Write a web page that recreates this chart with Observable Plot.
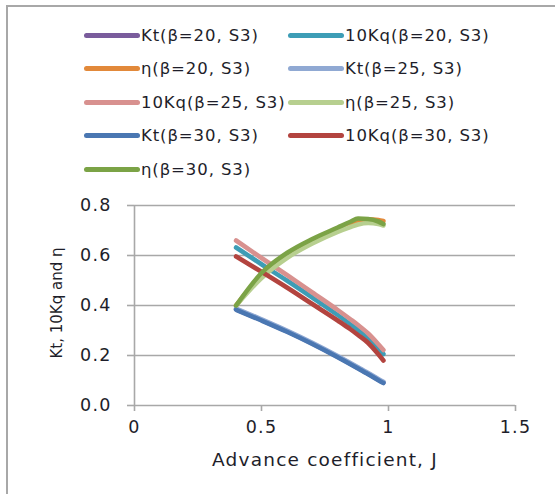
<!DOCTYPE html>
<html>
<head>
<meta charset="utf-8">
<script src="https://cdn.jsdelivr.net/npm/d3@7"></script>
<script src="https://cdn.jsdelivr.net/npm/@observablehq/plot@0.6"></script>
<style>
  html, body { margin: 0; padding: 0; background: #fff; }
  #wrap { position: relative; width: 555px; height: 494px; overflow: hidden; font-family: "DejaVu Sans", Verdana, sans-serif; }
  #frame { position: absolute; left: 6px; top: 5px; width: 560px; height: 500px; border-left: 2px solid #a8a8a8; border-top: 2px solid #a8a8a8; }
  #legend { position: absolute; left: 0; top: 0; width: 555px; height: 190px; }
  .item { position: absolute; display: flex; align-items: center; font-size: 16.5px; letter-spacing: 0.9px; color: #1e1e2a; white-space: nowrap; }
  .swatch { width: 56px; height: 5px; border-radius: 3px; margin-right: 1px; }
  #chart { position: absolute; left: 0; top: 190px; }
  #ylabel { position: absolute; left: 57px; top: 303px; transform: translate(-50%, -50%) rotate(-90deg); font-size: 15px; color: #1e1e2a; white-space: nowrap; line-height: 18px; }
</style>
</head>
<body>
<div id="wrap">
  <div id="frame"></div>
  <div id="legend"></div>
  <div id="chart"></div>
  <div id="ylabel"></div>
</div>
<script>
// Series names and colours
const seriesNames = [
  "Kt(β=20, S3)", "10Kq(β=20, S3)", "η(β=20, S3)",
  "Kt(β=25, S3)", "10Kq(β=25, S3)", "η(β=25, S3)",
  "Kt(β=30, S3)", "10Kq(β=30, S3)", "η(β=30, S3)"
];
const seriesColors = [
  "#7a5c9c", "#3d9db6", "#e2893a",
  "#90a9d3", "#d8918f", "#b7cf8f",
  "#4a77b2", "#b3443f", "#7ba346"
];
const xLabel = "Advance coefficient, J";
const yLabel = "Kt, 10Kq and η";

// Advance coefficient J
const J = [0.4, 0.5, 0.6, 0.7, 0.8, 0.85, 0.88, 0.92, 0.96, 0.98];

// Values
const kt20   = [0.385, 0.342, 0.297, 0.248, 0.195, 0.167, 0.150, 0.127, 0.103, 0.092];
const kq20   = [0.632, 0.565, 0.500, 0.432, 0.362, 0.325, 0.302, 0.268, 0.228, 0.206];
const eta20  = [0.400, 0.522, 0.602, 0.660, 0.705, 0.725, 0.737, 0.745, 0.742, 0.738];
const kt25   = [0.388, 0.345, 0.300, 0.251, 0.198, 0.170, 0.153, 0.130, 0.106, 0.095];
const kq25   = [0.660, 0.590, 0.522, 0.452, 0.382, 0.345, 0.322, 0.288, 0.245, 0.222];
const eta25  = [0.400, 0.510, 0.590, 0.648, 0.695, 0.714, 0.724, 0.730, 0.726, 0.720];
const kt30   = [0.383, 0.340, 0.295, 0.246, 0.193, 0.165, 0.148, 0.125, 0.101, 0.090];
const kq30   = [0.596, 0.535, 0.472, 0.406, 0.340, 0.305, 0.282, 0.250, 0.205, 0.180];
const eta30  = [0.400, 0.530, 0.610, 0.666, 0.712, 0.735, 0.748, 0.746, 0.736, 0.726];

const seriesValues = [kt20, kq20, eta20, kt25, kq25, eta25, kt30, kq30, eta30];

const xTicks = [0, 0.5, 1, 1.5];
const yTicks = [0, 0.2, 0.4, 0.6, 0.8];

const data = [];
seriesNames.forEach((name, i) => {
  seriesValues[i].forEach((v, k) => data.push({series: name, J: J[k], v}));
});

// Legend
const legend = document.getElementById("legend");
const colX = [84, 288];
const rowY = [35, 68.5, 102, 135.5, 169];
seriesNames.forEach((name, i) => {
  const d = document.createElement("div");
  d.className = "item";
  d.style.left = colX[i % 2] + "px";
  d.style.top = (rowY[Math.floor(i / 2)] - 11) + "px";
  d.style.height = "22px";
  d.innerHTML = `<span class="swatch" style="background:${seriesColors[i]}"></span><span>${name}</span>`;
  legend.appendChild(d);
});
document.getElementById("ylabel").textContent = yLabel;

const gray = "#a8a8a8";
const chart = Plot.plot({
  width: 555,
  height: 304,
  marginLeft: 134,
  marginRight: 40,
  marginTop: 15,
  marginBottom: 89,
  style: {fontFamily: "DejaVu Sans, Verdana, sans-serif", fontSize: "17px", color: "#1e1e2a", background: "transparent", overflow: "visible"},
  x: {domain: [0, 1.5]},
  y: {domain: [0, 0.8]},
  color: {domain: seriesNames, range: seriesColors},
  marks: [
    Plot.ruleY(yTicks.filter(t => t > 0), {stroke: gray, strokeWidth: 1.6}),
    Plot.ruleX([0], {stroke: gray, strokeWidth: 1.6}),
    Plot.ruleY([0], {stroke: gray, strokeWidth: 1.6}),
    Plot.axisY({ticks: yTicks, tickFormat: d3.format(".1f"), tickSize: 7, tickPadding: 16, stroke: gray, strokeWidth: 1.6, strokeOpacity: 1,
      label: null, fontSize: 17.5}),
    Plot.axisX({ticks: xTicks, tickFormat: d => String(d), tickSize: 6, tickPadding: 9, stroke: gray, strokeWidth: 1.6, strokeOpacity: 1,
      label: xLabel, labelAnchor: "center", labelArrow: "none", labelOffset: 60, fontSize: 17.5}),
    Plot.line(data, {x: "J", y: "v", z: "series", stroke: "series", strokeWidth: 4.6, curve: "monotone-x", strokeLinecap: "round", strokeLinejoin: "round"})
  ]
});
document.getElementById("chart").appendChild(chart);
// stretch text horizontally a bit like the reference
chart.querySelectorAll("text").forEach(t => t.style.letterSpacing = "1.2px");
chart.querySelectorAll('[aria-label="x-axis label"] text').forEach(t => { t.style.fontSize = "18.5px"; t.style.letterSpacing = "1.2px"; });
</script>
</body>
</html>
